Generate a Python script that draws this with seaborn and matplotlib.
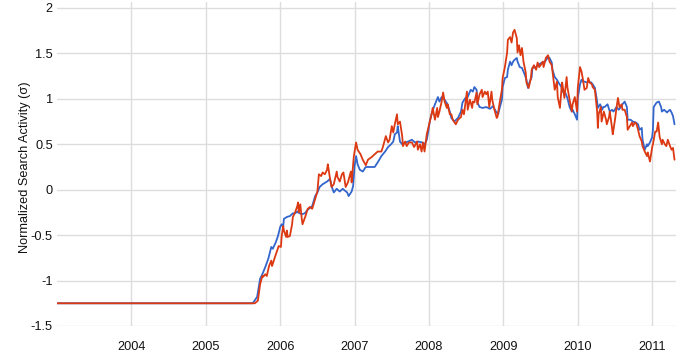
import matplotlib
matplotlib.use("Agg")
import matplotlib.pyplot as plt
import seaborn as sns

# blue series (decimal year, normalized value)
blue_year = [2003.00, 2005.63, 2005.69, 2005.73, 2005.76, 2005.80, 2005.84, 2005.88, 2005.90, 2005.94, 2005.97,
             2006.00, 2006.02, 2006.04, 2006.05, 2006.09, 2006.13, 2006.17, 2006.20, 2006.23, 2006.24, 2006.29, 2006.33, 2006.37, 2006.43, 2006.47, 2006.50, 2006.53, 2006.57, 2006.63, 2006.67, 2006.69, 2006.72, 2006.76, 2006.80, 2006.84, 2006.90, 2006.92, 2006.96, 2006.98,
             2007.00, 2007.02, 2007.04, 2007.07, 2007.11, 2007.15, 2007.18, 2007.23, 2007.27, 2007.31, 2007.36, 2007.41, 2007.45, 2007.49, 2007.52, 2007.54, 2007.57, 2007.58, 2007.61, 2007.64, 2007.68, 2007.72, 2007.77, 2007.81, 2007.85, 2007.91, 2007.93, 2007.97, 2007.99,
             2008.01, 2008.04, 2008.08, 2008.12, 2008.14, 2008.17, 2008.21, 2008.25, 2008.28, 2008.30, 2008.34, 2008.39, 2008.43, 2008.45, 2008.49, 2008.52, 2008.56, 2008.59, 2008.61, 2008.64, 2008.65, 2008.68, 2008.72, 2008.77, 2008.82, 2008.86, 2008.90, 2008.93, 2008.95, 2008.98, 2008.99,
             2009.02, 2009.05, 2009.06, 2009.09, 2009.11, 2009.13, 2009.15, 2009.18, 2009.19, 2009.22, 2009.25, 2009.26, 2009.29, 2009.31, 2009.33, 2009.35, 2009.38, 2009.39, 2009.44, 2009.46, 2009.52, 2009.56, 2009.60, 2009.62, 2009.65, 2009.66, 2009.69, 2009.72, 2009.74, 2009.78, 2009.79, 2009.83, 2009.86, 2009.89, 2009.92, 2009.93, 2009.96, 2009.99,
             2010.00, 2010.03, 2010.05, 2010.07, 2010.09, 2010.12, 2010.14, 2010.18, 2010.20, 2010.23, 2010.26, 2010.27, 2010.30, 2010.33, 2010.34, 2010.36, 2010.40, 2010.43, 2010.46, 2010.48, 2010.52, 2010.55, 2010.58, 2010.60, 2010.63, 2010.66, 2010.67, 2010.71, 2010.74, 2010.78, 2010.81, 2010.83, 2010.86, 2010.87, 2010.90, 2010.93, 2010.94, 2010.97,
             2011.00, 2011.01, 2011.02, 2011.06, 2011.09, 2011.12, 2011.13, 2011.16, 2011.20, 2011.21, 2011.24, 2011.26, 2011.28, 2011.30]
blue_val = [-1.25, -1.25, -1.18, -0.98, -0.93, -0.85, -0.76, -0.63, -0.65, -0.58, -0.51,
            -0.41, -0.38, -0.41, -0.32, -0.30, -0.29, -0.26, -0.26, -0.24, -0.25, -0.27, -0.26, -0.22, -0.18, -0.07, -0.03, 0.03, 0.06, 0.09, 0.12, 0.04, -0.03, 0.01, -0.02, 0.01, -0.03, -0.07, -0.02, 0.04,
            0.26, 0.37, 0.28, 0.22, 0.20, 0.25, 0.25, 0.25, 0.25, 0.30, 0.37, 0.42, 0.47, 0.50, 0.53, 0.61, 0.63, 0.70, 0.53, 0.50, 0.52, 0.53, 0.55, 0.52, 0.53, 0.52, 0.48, 0.55, 0.64,
            0.75, 0.85, 0.94, 1.02, 0.97, 1.02, 0.99, 0.94, 0.86, 0.79, 0.75, 0.79, 0.86, 0.96, 1.01, 1.02, 1.10, 1.08, 1.13, 1.10, 0.96, 0.91, 0.90, 0.91, 0.89, 0.92, 0.86, 0.83, 0.90, 0.99, 1.13,
            1.23, 1.24, 1.32, 1.41, 1.37, 1.41, 1.43, 1.45, 1.41, 1.35, 1.34, 1.32, 1.26, 1.21, 1.12, 1.18, 1.24, 1.34, 1.35, 1.37, 1.40, 1.41, 1.46, 1.45, 1.40, 1.32, 1.24, 1.21, 1.18, 1.13, 1.08, 1.07, 1.01, 0.91, 0.86, 0.88, 0.83, 0.77,
            1.01, 1.16, 1.21, 1.19, 1.19, 1.18, 1.19, 1.18, 1.16, 1.12, 0.97, 0.90, 0.94, 0.88, 0.91, 0.91, 0.94, 0.86, 0.88, 0.86, 0.91, 0.88, 0.91, 0.94, 0.97, 0.91, 0.77, 0.77, 0.75, 0.74, 0.72, 0.66, 0.68, 0.55, 0.44, 0.50, 0.48, 0.52,
            0.58, 0.66, 0.91, 0.96, 0.97, 0.91, 0.86, 0.88, 0.85, 0.86, 0.88, 0.85, 0.81, 0.72]

# red series
red_year = [2003.00, 2005.66, 2005.70, 2005.73, 2005.76, 2005.77, 2005.80, 2005.82, 2005.85, 2005.88, 2005.89, 2005.93, 2005.96, 2005.97, 2005.98,
            2006.01, 2006.02, 2006.04, 2006.05, 2006.08, 2006.09, 2006.10, 2006.13, 2006.16, 2006.17, 2006.20, 2006.23, 2006.24, 2006.25, 2006.27, 2006.29, 2006.30, 2006.34, 2006.37, 2006.40, 2006.43, 2006.46, 2006.50, 2006.52, 2006.55, 2006.57, 2006.60, 2006.63, 2006.64, 2006.67, 2006.69, 2006.72, 2006.76, 2006.77, 2006.80, 2006.83, 2006.85, 2006.88, 2006.91, 2006.95, 2006.96, 2006.99,
            2007.02, 2007.04, 2007.08, 2007.11, 2007.15, 2007.18, 2007.23, 2007.27, 2007.31, 2007.36, 2007.38, 2007.42, 2007.45, 2007.47, 2007.50, 2007.52, 2007.54, 2007.57, 2007.58, 2007.61, 2007.64, 2007.65, 2007.68, 2007.70, 2007.73, 2007.77, 2007.80, 2007.84, 2007.85, 2007.88, 2007.90, 2007.92, 2007.94, 2007.97, 2007.99,
            2008.01, 2008.04, 2008.05, 2008.08, 2008.11, 2008.12, 2008.14, 2008.17, 2008.19, 2008.21, 2008.24, 2008.25, 2008.28, 2008.30, 2008.32, 2008.36, 2008.39, 2008.43, 2008.45, 2008.47, 2008.51, 2008.52, 2008.55, 2008.58, 2008.59, 2008.61, 2008.64, 2008.65, 2008.68, 2008.71, 2008.72, 2008.75, 2008.77, 2008.79, 2008.81, 2008.84, 2008.85, 2008.88, 2008.91, 2008.92, 2008.95, 2008.98, 2008.99,
            2009.02, 2009.05, 2009.06, 2009.09, 2009.11, 2009.13, 2009.15, 2009.18, 2009.19, 2009.21, 2009.23, 2009.25, 2009.27, 2009.30, 2009.31, 2009.34, 2009.37, 2009.38, 2009.41, 2009.44, 2009.46, 2009.48, 2009.50, 2009.53, 2009.54, 2009.57, 2009.60, 2009.62, 2009.65, 2009.66, 2009.69, 2009.72, 2009.73, 2009.76, 2009.78, 2009.79, 2009.82, 2009.85, 2009.86, 2009.89, 2009.92, 2009.93, 2009.96, 2009.99,
            2010.00, 2010.03, 2010.05, 2010.07, 2010.09, 2010.12, 2010.14, 2010.16, 2010.19, 2010.20, 2010.23, 2010.26, 2010.27, 2010.28, 2010.31, 2010.32, 2010.35, 2010.38, 2010.39, 2010.42, 2010.43, 2010.46, 2010.47, 2010.50, 2010.52, 2010.54, 2010.56, 2010.59, 2010.60, 2010.63, 2010.66, 2010.67, 2010.70, 2010.73, 2010.74, 2010.77, 2010.79, 2010.81, 2010.83, 2010.86, 2010.87, 2010.90, 2010.93, 2010.94, 2010.97,
            2011.00, 2011.01, 2011.04, 2011.06, 2011.08, 2011.10, 2011.13, 2011.14, 2011.17, 2011.19, 2011.21, 2011.24, 2011.26, 2011.28, 2011.30]
red_val = [-1.25, -1.25, -1.22, -1.04, -0.95, -0.96, -0.93, -0.95, -0.84, -0.78, -0.84, -0.74, -0.67, -0.65, -0.62,
           -0.63, -0.51, -0.40, -0.45, -0.52, -0.45, -0.52, -0.51, -0.38, -0.30, -0.25, -0.18, -0.14, -0.25, -0.16, -0.32, -0.38, -0.29, -0.21, -0.19, -0.21, -0.13, -0.02, 0.17, 0.15, 0.19, 0.17, 0.22, 0.28, 0.12, 0.03, 0.06, 0.20, 0.14, 0.09, 0.17, 0.19, 0.03, 0.08, 0.20, 0.08, 0.37,
           0.52, 0.44, 0.39, 0.33, 0.27, 0.33, 0.36, 0.39, 0.42, 0.42, 0.47, 0.59, 0.52, 0.55, 0.70, 0.63, 0.72, 0.83, 0.72, 0.75, 0.59, 0.48, 0.53, 0.48, 0.52, 0.52, 0.47, 0.53, 0.44, 0.50, 0.42, 0.52, 0.42, 0.61, 0.68,
           0.75, 0.85, 0.90, 0.77, 0.90, 0.80, 0.86, 0.97, 1.07, 0.97, 0.90, 0.94, 0.83, 0.83, 0.77, 0.72, 0.77, 0.80, 0.88, 0.83, 1.08, 0.88, 0.99, 0.90, 0.97, 0.96, 1.07, 0.94, 1.05, 1.10, 1.02, 1.08, 1.05, 1.08, 0.91, 1.08, 0.99, 0.88, 0.79, 0.80, 0.96, 1.10, 1.23,
           1.35, 1.51, 1.65, 1.68, 1.62, 1.73, 1.76, 1.67, 1.51, 1.59, 1.48, 1.56, 1.41, 1.29, 1.18, 1.12, 1.23, 1.32, 1.37, 1.32, 1.40, 1.35, 1.37, 1.41, 1.35, 1.45, 1.48, 1.41, 1.37, 1.30, 1.10, 1.19, 1.02, 0.90, 1.10, 1.18, 1.01, 1.24, 1.13, 0.99, 0.86, 0.94, 1.02, 0.86,
           1.12, 1.35, 1.30, 1.21, 1.10, 1.12, 1.23, 1.18, 1.16, 1.13, 1.10, 0.86, 0.68, 0.83, 0.91, 0.75, 0.86, 0.77, 0.72, 0.80, 0.86, 0.68, 0.61, 0.77, 0.90, 1.01, 0.91, 0.94, 0.88, 0.88, 0.80, 0.66, 0.70, 0.74, 0.70, 0.74, 0.72, 0.66, 0.59, 0.53, 0.48, 0.42, 0.37, 0.41, 0.31,
           0.47, 0.50, 0.64, 0.64, 0.74, 0.58, 0.50, 0.55, 0.50, 0.48, 0.55, 0.48, 0.44, 0.46, 0.33]

assert len(blue_year) == len(blue_val)
assert len(red_year) == len(red_val)

year_ticks = list(range(2004, 2012))
value_ticks = [-1.5, -1, -0.5, 0, 0.5, 1, 1.5, 2]
value_labels = ["-1.5", "-1", "-0.5", "0", "0.5", "1", "1.5", "2"]

sns.set_style("whitegrid")
plt.rcParams['font.family'] = ['Liberation Sans', 'DejaVu Sans']

fig = plt.figure(figsize=(6.98, 3.58), dpi=100)
ax = fig.add_axes([57 / 698, 32 / 358, 619 / 698, 324 / 358])

sns.lineplot(x=blue_year, y=blue_val, color="#3366cc", linewidth=1.3, ax=ax)
sns.lineplot(x=red_year, y=red_val, color="#dc3912", linewidth=1.3, ax=ax)

ax.set_xlim(2003.0, 2011.32)
ax.set_ylim(-1.5, 2.066)
ax.set_xticks(year_ticks)
ax.set_xticklabels([str(y) for y in year_ticks])
ax.set_yticks(value_ticks)
ax.set_yticklabels(value_labels)

ax.grid(True, color="#dddddd", linewidth=1)
for s in ax.spines.values():
    s.set_visible(False)
ax.tick_params(axis="x", length=6, width=1, color="#dddddd", pad=5, labelsize=9.2, labelcolor="#111111")
ax.tick_params(axis="y", length=0, pad=3, labelsize=9.2, labelcolor="#111111")

ax.set_xlabel("")
ax.set_ylabel("Normalized Search Activity (σ)", fontsize=9.2, color="#111111")
ax.yaxis.set_label_coords(-0.042, 0.49)

fig.savefig("out.png", dpi=100)
